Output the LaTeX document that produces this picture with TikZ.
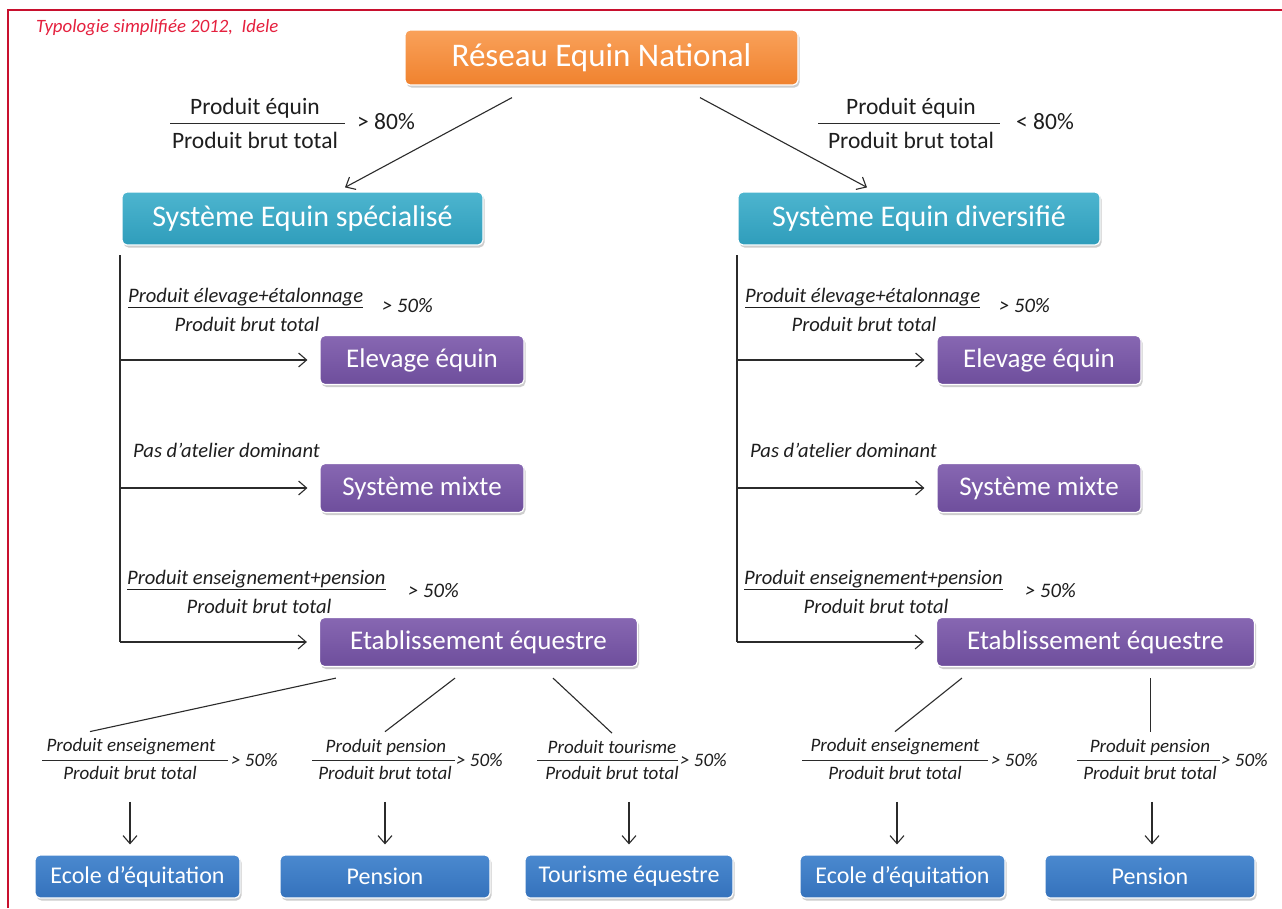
\documentclass[tikz,border=0pt]{standalone}
\usepackage{fontspec}
\setmainfont{Carlito}
\usetikzlibrary{arrows.meta,shadows,calc}
\definecolor{orT}{HTML}{F9A15A}
\definecolor{orB}{HTML}{F0822E}
\definecolor{teT}{HTML}{4DB5CF}
\definecolor{teB}{HTML}{2F9DBB}
\definecolor{puT}{HTML}{8767B2}
\definecolor{puB}{HTML}{6E4E9C}
\definecolor{blT}{HTML}{4A89CF}
\definecolor{blB}{HTML}{3572BC}
\definecolor{lineC}{HTML}{2B2B2B}
\definecolor{labC}{HTML}{1E1E1E}
\definecolor{srcRed}{HTML}{E5203E}
\definecolor{frameRed}{HTML}{C8102E}
\begin{document}
\begin{tikzpicture}[x=1pt,y=-1pt,
  box/.style={rounded corners=5pt, draw=white, line width=1.2pt, text=white, inner sep=0pt,
    drop shadow={shadow xshift=1.5pt,shadow yshift=-2.5pt,opacity=0.28,fill=black!70}},
  orangebox/.style={box, top color=orT, bottom color=orB, minimum width=393pt, minimum height=55pt, font=\fontsize{33}{36}\selectfont},
  tealbox/.style={box, top color=teT, bottom color=teB, minimum width=361pt, minimum height=53pt, font=\fontsize{30}{33}\selectfont},
  purplebox/.style={box, top color=puT, bottom color=puB, minimum height=49pt, font=\fontsize{27}{30}\selectfont},
  bluebox/.style={box, top color=blT, bottom color=blB, minimum height=43pt, font=\fontsize{24}{27}\selectfont},
  conn/.style={draw=lineC, line width=1.1pt},
  bar/.style={draw=lineC, line width=1pt},
  arr/.style={conn, -{Straight Barb[length=8pt,width=14pt]}},
  toplab/.style={inner sep=0pt, text=labC, font=\fontsize{23.5}{26}\selectfont},
  lab/.style={inner sep=0pt, text=labC, font=\fontsize{20.6}{22}\selectfont\itshape},
  flab/.style={inner sep=0pt, text=labC, font=\fontsize{19}{21}\selectfont\itshape}
]
\useasboundingbox (0,0) rectangle (1282,908);
\fill[white] (0,0) rectangle (1282,908);
\draw[frameRed, line width=2pt] (8,908) -- (8,10) -- (1282,10);

\node[inner sep=0pt, anchor=west, text=srcRed, font=\fontsize{18.8}{20}\selectfont\itshape] (src) at (36,28) {Typologie simplifiée 2012,~ Idele};

% top
\node[orangebox] (reseau) at (601.5,57.5) {Réseau Equin National};
\node[tealbox] (specL) at (302.5,218.5) {Système Equin spécialisé};
\node[tealbox, minimum width=362pt] (specR) at (919,218.5) {Système Equin diversifié};

\node[toplab] (tnL) at (255,108) {Produit équin};
\node[toplab] (tdL) at (255,140) {Produit brut total};
\draw[bar] (170,123) -- (345,123);
\node[toplab, anchor=west] (tgL) at (357,122) {> 80\%};
\node[toplab] (tnR) at (911,108) {Produit équin};
\node[toplab] (tdR) at (911,140) {Produit brut total};
\draw[bar] (818,123) -- (1000,123);
\node[toplab, anchor=west] (tgR) at (1016,122) {< 80\%};

\draw[arr] ($(reseau.south)+(-89.5,12)$) -- ($(specL.north)+(42.5,-4)$);
\draw[arr] ($(reseau.south)+(98.5,12)$) -- ($(specR.north)+(-52,-4)$);

% middle, both sides
\foreach \s/\dx in {L/0,R/617}{
  \coordinate (trunk\s) at (120+\dx,255);
  \node[purplebox, minimum width=204pt] (elev\s) at (422+\dx,360) {Elevage équin};
  \node[purplebox, minimum width=204pt] (mix\s) at (422+\dx,488) {Système mixte};
  \node[purplebox, minimum width=318pt] (etab\s) at (478.5+\dx,642) {Etablissement équestre};
  \node[lab, anchor=west] (ca\s) at (128+\dx,298) {\underline{Produit élevage+étalonnage}};
  \node[lab] (cad\s) at (247+\dx,324) {Produit brut total};
  \node[lab, anchor=west] (cag\s) at (382+\dx,306) {> 50\%};
  \node[lab, anchor=west] (cb\s) at (133+\dx,450) {Pas d’atelier dominant};
  \node[lab, anchor=west] (cc\s) at (127+\dx,580) {\underline{Produit enseignement+pension}};
  \node[lab] (ccd\s) at (259+\dx,606) {Produit brut total};
  \node[lab, anchor=west] (ccg\s) at (408+\dx,591) {> 50\%};
  \draw[conn] (trunk\s) -- (etab\s.west -| trunk\s);
  \foreach \b in {elev,mix,etab}
    \draw[arr, shorten >=12pt] (\b\s.west -| trunk\s) -- (\b\s.west);
}

% bottom boxes
\node[bluebox, minimum width=205pt] (ecoleL) at (137.5,876.5) {Ecole d’équitation};
\node[bluebox, minimum width=210pt] (pensL) at (385,876.5) {Pension};
\node[bluebox, minimum width=208pt] (tourL) at (629,876.5) {Tourisme équestre};
\node[bluebox, minimum width=205pt] (ecoleR) at (902.5,876.5) {Ecole d’équitation};
\node[bluebox, minimum width=210pt] (pensR) at (1150,876.5) {Pension};

% bottom fractions
\node[flab] (f1n) at (131,747) {Produit enseignement};
\node[flab] (f1d) at (130,773) {Produit brut total};
\draw[bar] (42,760) -- (228,760);
\node[flab, anchor=west] (f1g) at (231,760) {> 50\%};

\node[flab] (f2n) at (386,747) {Produit pension};
\node[flab] (f2d) at (385,773) {Produit brut total};
\draw[bar] (312,760) -- (455,760);
\node[flab, anchor=west] (f2g) at (456,760) {> 50\%};

\node[flab] (f3n) at (612,747) {Produit tourisme};
\node[flab] (f3d) at (612,773) {Produit brut total};
\draw[bar] (537,760) -- (678,760);
\node[flab, anchor=west] (f3g) at (680,760) {> 50\%};

\node[flab] (f4n) at (895,747) {Produit enseignement};
\node[flab] (f4d) at (895,773) {Produit brut total};
\draw[bar] (802,760) -- (988,760);
\node[flab, anchor=west] (f4g) at (991,760) {> 50\%};

\node[flab] (f5n) at (1150,747) {Produit pension};
\node[flab] (f5d) at (1150,773) {Produit brut total};
\draw[bar] (1077,760) -- (1220,760);
\node[flab, anchor=west] (f5g) at (1221,760) {> 50\%};

% lines from Etablissement
\draw[conn] ($(etabL.south west)+(17,11)$) -- ($(f1n.north)+(-41,-7)$);
\draw[conn] ($(etabL.south)+(-23.5,11)$) -- ($(f2n.north)+(-1,-7)$);
\draw[conn] ($(etabL.south)+(74.5,11)$) -- ($(f3n.north)+(0,-7)$);
\draw[conn] ($(etabR.south west)+(26,11)$) -- ($(f4n.north)+(0,-7)$);
\draw[conn] ($(etabR.south)+(55,11)$) -- ($(etabR.south)+(55,65)$);

% down arrows
\draw[arr] ($(f1d.south)+(0,22)$) -- ($(f1d.south |- ecoleL.north)+(0,-10)$);
\draw[arr] ($(pensL.north |- f2d.south)+(0,22)$) -- ($(pensL.north)+(0,-10)$);
\draw[arr] ($(tourL.north |- f3d.south)+(0,22)$) -- ($(tourL.north)+(0,-10)$);
\draw[arr] ($(f4d.south)+(2,22)$) -- ($(f4d.south |- ecoleR.north)+(2,-10)$);
\draw[arr] ($(f5d.south)+(2,22)$) -- ($(f5d.south |- pensR.north)+(2,-10)$);
\end{tikzpicture}
\end{document}
